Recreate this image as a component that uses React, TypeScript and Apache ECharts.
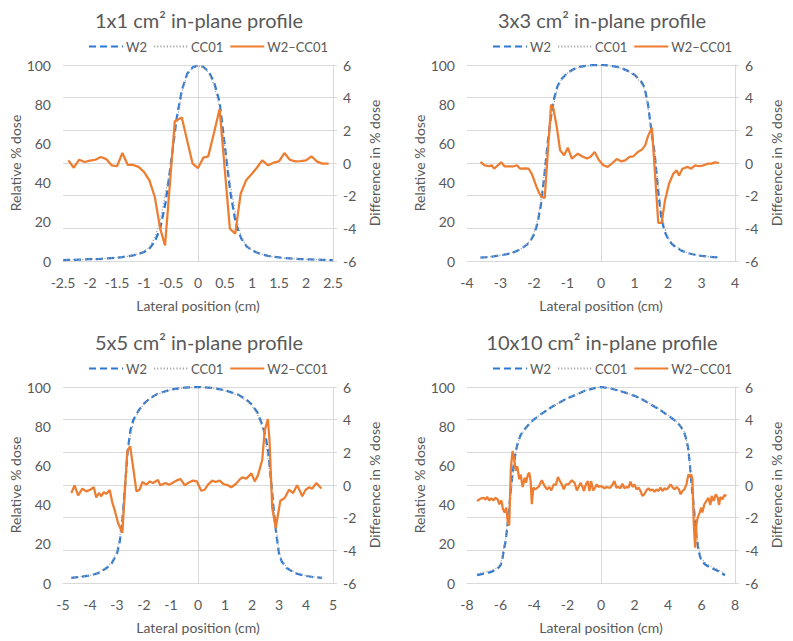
import React, { useEffect, useRef } from "react";
import * as echarts from "echarts";

// ---------- Data ----------
const seriesNames = ["W2", "CC01", "W2\u2013CC01"];
const panelTitles = [
  "1x1 cm\u00B2 in-plane profile",
  "3x3 cm\u00B2 in-plane profile",
  "5x5 cm\u00B2 in-plane profile",
  "10x10 cm\u00B2 in-plane profile",
];
const xMins = [-2.5, -4, -5, -8];
const xMaxs = [2.5, 4, 5, 8];
const xIntervals = [0.5, 1, 1, 2];

// Panel 1 (1x1)
const p1X = [-2.5,-2.4,-2.3,-2.2,-2.1,-2,-1.9,-1.8,-1.7,-1.6,-1.5,-1.4,-1.3,-1.2,-1.1,-1,-0.9,-0.8,-0.7,-0.6,-0.5,-0.4,-0.3,-0.2,-0.1,0,0.1,0.2,0.3,0.4,0.5,0.6,0.7,0.8,0.9,1,1.1,1.2,1.3,1.4,1.5,1.6,1.7,1.8,1.9,2,2.1,2.2,2.3,2.4,2.5];
const p1W2 = [0.5,0.6,0.6,0.7,0.8,0.9,1.0,1.1,1.3,1.5,1.7,2.0,2.4,2.9,3.6,4.6,6.3,10,16.5,30,50,72,87,95.5,98.8,99.7,99.0,96.5,91,81,58,35,19,11.5,7.5,5.4,4.2,3.3,2.6,2.1,1.8,1.5,1.3,1.1,1.0,0.9,0.8,0.7,0.6,0.5,0.5];
const p1CC = [0.5,0.6,0.7,0.7,0.8,0.9,1.0,1.1,1.2,1.5,1.8,1.9,2.4,3.0,3.7,5.0,7.0,12,20.5,35,49,70,86,95,98.5,99.6,98.8,96,89.5,78,58,39,23,12.5,7.8,5.6,4.3,3.3,2.7,2.1,1.8,1.5,1.3,1.1,1.0,0.9,0.8,0.7,0.6,0.5,0.5];
const p1DX = [-2.4,-2.3,-2.2,-2.1,-2.0,-1.9,-1.8,-1.7,-1.6,-1.5,-1.4,-1.3,-1.2,-1.1,-1.0,-0.9,-0.8,-0.7,-0.61,-0.43,-0.3,-0.1,0,0.1,0.19,0.3,0.4,0.59,0.69,0.79,0.89,0.99,1.09,1.19,1.3,1.4,1.5,1.6,1.7,1.8,1.9,2.0,2.1,2.2,2.3,2.42];
const p1D = [0.16,-0.29,0.2,0.06,0.14,0.2,0.37,0.24,-0.14,-0.2,0.61,-0.12,-0.12,-0.24,-0.55,-1.06,-2.08,-4.02,-5.04,2.55,2.78,-0.04,-0.31,0.33,0.41,1.9,3.3,-4.02,-4.33,-1.88,-1.06,-0.69,-0.29,0.16,-0.14,0.02,0.1,0.61,0.2,0.1,0.12,0.16,0.41,0.1,-0.04,-0.04];

// Panel 2 (3x3)
const p2X = [-3.6,-3.4,-3.2,-3.0,-2.8,-2.6,-2.4,-2.2,-2.1,-2.0,-1.9,-1.8,-1.7,-1.6,-1.5,-1.4,-1.3,-1.2,-1.0,-0.8,-0.6,-0.4,-0.2,0,0.2,0.4,0.6,0.8,1.0,1.2,1.3,1.4,1.5,1.6,1.7,1.8,1.9,2.0,2.1,2.2,2.4,2.6,2.8,3.0,3.2,3.5];
const p2W2 = [1.7,2.0,2.4,2.9,3.5,4.5,6.0,8.5,10.5,13.5,19,28,42,59,73,83,89,92.5,96,98,99.2,99.7,100,100,99.8,99.3,98.5,97,95,91.5,88.5,80,67,55,37,22,15,11.5,9,7.5,5.3,4.0,3.2,2.6,2.2,1.8];
const p2CC = [1.7,2.0,2.4,2.9,3.6,4.6,6.1,8.7,11,14.5,20.5,30,44,59,70,81,88,92,95.8,97.8,99,99.6,99.9,100,99.8,99.2,98.4,96.8,94.6,90.8,87.5,79,65,56,40,25.5,17,12,9.5,7.8,5.5,4.1,3.3,2.6,2.2,1.8];
const p2DX = [-3.6,-3.47,-3.35,-3.26,-3.19,-3.08,-2.98,-2.88,-2.73,-2.6,-2.51,-2.41,-2.26,-2.16,-2.06,-1.96,-1.86,-1.78,-1.68,-1.49,-1.42,-1.32,-1.22,-1.1,-0.99,-0.87,-0.69,-0.57,-0.42,-0.32,-0.19,-0.07,0.07,0.2,0.34,0.47,0.6,0.72,0.85,0.97,1.1,1.22,1.32,1.4,1.52,1.71,1.81,1.91,2.03,2.16,2.26,2.33,2.43,2.59,2.69,2.81,2.93,3.06,3.2,3.3,3.4,3.52];
const p2D = [0.06,-0.14,-0.2,-0.14,-0.35,-0.14,0.04,-0.2,-0.2,-0.2,-0.14,-0.35,-0.33,-0.35,-0.69,-1.27,-1.78,-2.08,-2.14,3.57,3.33,2.2,0.78,0.47,0.94,0.27,0.57,0.41,0.27,0.37,0.67,0.2,-0.14,-0.24,0,0.24,0.1,0.16,0.37,0.41,0.67,0.82,1.08,1.63,2.16,-3.67,-3.67,-2.29,-1.27,-0.65,-0.45,-0.76,-0.35,-0.24,-0.35,-0.14,-0.2,-0.14,-0.04,-0.04,0.04,0];

// Panel 3 (5x5)
const p3X = [-4.7,-4.4,-4.0,-3.7,-3.4,-3.2,-3.0,-2.9,-2.8,-2.7,-2.6,-2.5,-2.4,-2.2,-2.0,-1.8,-1.5,-1.0,-0.5,0,0.5,1.0,1.5,1.8,2.0,2.2,2.4,2.5,2.6,2.7,2.8,2.9,3.0,3.1,3.3,3.6,4.0,4.3,4.6];
const p3W2 = [2.6,3.0,3.8,5.0,7.5,10,15,21,32,50,68,78,83,88,91.5,94,96.5,98.7,99.7,100,99.6,98.3,96,93.5,91,87,80,75,67,53,38,25,15,11,7.5,5,3.6,3.0,2.6];
const p3CC = [2.7,3.1,3.9,5.2,7.9,10.5,16,23,35,53,67,75.5,81.5,87.5,91.3,93.8,96.3,98.6,99.6,100,99.5,98.1,95.6,93,90.4,86,78.5,72,63,50,38.5,27.6,16.5,11.5,7.9,5.3,3.8,3.1,2.8];
const p3DX = [-4.69,-4.57,-4.44,-4.28,-4.14,-3.99,-3.86,-3.77,-3.67,-3.58,-3.49,-3.4,-3.27,-3.17,-3.09,-2.96,-2.8,-2.62,-2.51,-2.28,-2.16,-2.06,-1.91,-1.79,-1.67,-1.48,-1.4,-1.2,-1.07,-0.95,-0.8,-0.65,-0.49,-0.37,-0.19,-0.04,0.12,0.25,0.37,0.53,0.65,0.8,0.95,1.11,1.23,1.4,1.54,1.64,1.79,1.98,2.1,2.22,2.38,2.47,2.59,2.65,2.75,2.88,3.05,3.21,3.37,3.52,3.67,3.77,3.86,3.99,4.11,4.23,4.38,4.57];
const p3D = [-0.49,-0.02,-0.63,-0.22,-0.39,-0.29,-0.14,-0.76,-0.49,-0.69,-0.43,-0.55,-0.31,-1.1,-1.51,-2.33,-2.94,2.06,2.37,-0.39,-0.29,0.18,0.02,0.22,0.12,0.31,-0.02,0.12,0.02,0.12,0.27,0.37,-0.02,0.12,0.27,0.22,-0.35,-0.29,0.02,0.27,0.18,0.27,0.06,-0.02,-0.14,0.06,0.33,0.47,0.39,0.71,0.22,0.59,1.55,3.33,4.04,2.67,-1.41,-2.63,-0.96,-0.8,-0.29,-0.49,-0.02,-0.35,-0.69,-0.29,-0.14,-0.22,0.12,-0.22];

// Panel 4 (10x10)
const p4X = [-7.4,-7.0,-6.6,-6.2,-6.0,-5.9,-5.8,-5.7,-5.6,-5.5,-5.4,-5.3,-5.2,-5.1,-5.0,-4.8,-4.6,-4.3,-4.0,-3.6,-3.0,-2.5,-2.0,-1.5,-1.0,-0.5,0,0.5,1.0,1.5,2.0,2.5,3.0,3.5,4.0,4.4,4.7,4.9,5.0,5.1,5.2,5.3,5.4,5.5,5.6,5.7,5.8,5.9,6.0,6.2,6.5,6.9,7.2,7.4];
const p4W2 = [4,4.8,5.5,7,9,11.5,17,21,28,36,46,54,61,66.5,70.5,75.5,78,81,83.5,86,89.5,92,94.3,96,98,99.2,100,99.4,98.3,97,95.5,93.5,91,88.5,85.5,83,80.5,78,76,73,69,61,51,42,33,24,18,14,11.5,9.5,8,6.5,5,4];
const p4CC = [4.6,5.5,6.3,7.8,9.8,12.8,18.5,22.5,30,38,44,52,60,66,70.5,75,77.6,80.8,83.5,86,89.5,92,94.3,96.2,98,99.3,100,99.5,98.4,97.1,95.6,93.7,91.2,88.8,85.8,83.2,80.8,78.3,76.5,73,68.5,60.5,51,44.5,36,28,20,15.2,12.5,10.5,8.8,7.2,5.8,4.7];
const p4DX = [-7.4,-7.26,-7.15,-7.0,-6.9,-6.8,-6.67,-6.55,-6.41,-6.31,-6.17,-6.07,-5.95,-5.85,-5.75,-5.66,-5.56,-5.48,-5.38,-5.28,-5.2,-5.08,-5.0,-4.88,-4.8,-4.68,-4.56,-4.48,-4.36,-4.28,-4.2,-4.13,-4.04,-3.93,-3.73,-3.53,-3.37,-3.23,-3.09,-2.97,-2.82,-2.69,-2.57,-2.45,-2.34,-2.22,-2.1,-1.94,-1.74,-1.58,-1.44,-1.34,-1.22,-1.1,-1.02,-0.9,-0.79,-0.69,-0.59,-0.47,-0.35,-0.25,-0.15,-0.03,0.09,0.21,0.33,0.45,0.57,0.69,0.8,0.92,1.04,1.16,1.28,1.4,1.52,1.64,1.76,1.88,2.0,2.12,2.24,2.36,2.47,2.59,2.71,2.83,2.95,3.07,3.19,3.31,3.43,3.55,3.67,3.79,3.91,4.03,4.15,4.26,4.38,4.52,4.66,4.74,4.86,4.98,5.1,5.22,5.3,5.38,5.46,5.54,5.62,5.7,5.77,5.89,5.98,6.05,6.17,6.29,6.41,6.53,6.61,6.73,6.85,6.97,7.05,7.13,7.25,7.37,7.49];
const p4D = [-0.98,-0.88,-0.82,-0.78,-0.9,-0.73,-0.94,-0.82,-0.94,-0.78,-0.88,-1.18,-0.94,-1.49,-1.69,-1.39,-2.31,-2.47,1.06,2.08,1.67,0.86,1.16,0.35,0.65,-0.12,0.45,0.14,0.65,0.76,0.24,-1.18,-0.16,-0.27,-0.12,0.29,-0.06,-0.27,-0.12,-0.33,0.04,0,0.49,0.24,0.04,-0.27,0.04,0.04,0.29,0.14,-0.33,-0.12,0.14,-0.12,-0.37,0.04,0.24,-0.37,0.24,-0.33,-0.16,0.04,-0.12,-0.06,-0.12,-0.2,-0.12,-0.16,-0.16,0.04,0.24,-0.16,-0.12,-0.2,0.08,-0.2,-0.12,-0.16,0.2,-0.12,0.04,-0.27,-0.16,-0.37,-0.67,-0.57,-0.33,-0.2,-0.33,-0.27,-0.41,-0.27,-0.37,-0.16,-0.37,-0.2,-0.27,-0.16,0.04,-0.12,-0.27,-0.12,-0.27,-0.57,-0.37,-0.27,0.04,0.65,0.49,0.65,0.35,-2.41,-3.84,-2.41,-2.0,-1.69,-1.39,-1.69,-1.18,-0.98,-0.78,-1.22,-0.67,-0.98,-0.57,-0.78,-1.22,-0.73,-0.88,-0.61,-0.67];

const profileX = [p1X, p2X, p3X, p4X];
const profileW2 = [p1W2, p2W2, p3W2, p4W2];
const profileCC = [p1CC, p2CC, p3CC, p4CC];
const diffX = [p1DX, p2DX, p3DX, p4DX];
const diffY = [p1D, p2D, p3D, p4D];

// ---------- Styling / layout ----------
const FONT = "Lato, 'Open Sans', sans-serif";
const TXT = "#595959";
const GRIDC = "#D9D9D9";
const BLUE = "#2E78D2";
const GREY = "#A5A5A5";
const ORANGE = "#ED7D31";

const grids = [
  { left: 63, top: 65, width: 270, height: 196 },
  { left: 467, top: 65, width: 268, height: 196 },
  { left: 63, top: 387, width: 270, height: 196 },
  { left: 467, top: 387, width: 268, height: 196 },
];
const titlePos = [
  { x: 194, y: 5 },
  { x: 597, y: 5 },
  { x: 194, y: 327 },
  { x: 597, y: 327 },
];
const legendPos = [
  { x: 88, y: 40 },
  { x: 492, y: 40 },
  { x: 88, y: 362 },
  { x: 492, y: 362 },
];

const pairs = (xs: number[], ys: number[]) => xs.map((x, i) => [x, ys[i]]);

function buildOption() {
  const title: any[] = [];
  const legend: any[] = [];
  const xAxis: any[] = [];
  const yAxis: any[] = [];
  const series: any[] = [];
  for (let i = 0; i < 4; i++) {
    title.push({
      text: panelTitles[i],
      left: titlePos[i].x,
      top: titlePos[i].y,
      textAlign: "center",
      textStyle: { fontFamily: FONT, fontSize: 20, fontWeight: "normal", color: TXT },
    });
    legend.push({
      left: legendPos[i].x,
      top: legendPos[i].y,
      itemWidth: 34,
      itemHeight: 14,
      itemGap: 6,
      padding: 0,
      data: seriesNames,
      itemStyle: { color: "transparent", borderColor: "transparent", borderWidth: 0, opacity: 0 },
      textStyle: { fontFamily: FONT, fontSize: 13, color: TXT, padding: [0, 0, 0, -2] },
    });
    xAxis.push({
      type: "value",
      gridIndex: i,
      min: xMins[i],
      max: xMaxs[i],
      interval: xIntervals[i],
      axisLine: { show: true, onZero: false, lineStyle: { color: GRIDC, width: 1 } },
      axisTick: { show: false },
      splitLine: { show: false },
      axisLabel: { fontFamily: FONT, fontSize: 14, color: TXT, margin: 14 },
      name: "Lateral position (cm)",
      nameLocation: "middle",
      nameGap: 37,
      nameTextStyle: { fontFamily: FONT, fontSize: 14, color: TXT },
    });
    yAxis.push({
      type: "value",
      gridIndex: i,
      position: "left",
      min: 0,
      max: 100,
      interval: 20,
      axisLine: { show: true, lineStyle: { color: GRIDC, width: 1 } },
      axisTick: { show: false },
      splitLine: { show: false },
      axisLabel: { fontFamily: FONT, fontSize: 14, color: TXT, margin: 12 },
      name: "Relative % dose",
      nameLocation: "middle",
      nameGap: 40,
      nameTextStyle: { fontFamily: FONT, fontSize: 14, color: TXT },
    });
    yAxis.push({
      type: "value",
      gridIndex: i,
      position: "right",
      min: -6,
      max: 6,
      interval: 2,
      axisLine: { show: true, lineStyle: { color: GRIDC, width: 1 } },
      axisTick: { show: true, length: 4, lineStyle: { color: GRIDC } },
      splitLine: { show: true, lineStyle: { color: GRIDC, width: 1 } },
      axisLabel: { fontFamily: FONT, fontSize: 14, color: TXT, margin: 10 },
      name: "Difference in % dose",
      nameLocation: "middle",
      nameGap: 34,
      nameTextStyle: { fontFamily: FONT, fontSize: 14, color: TXT },
    });
    series.push({
      type: "line",
      name: seriesNames[0],
      xAxisIndex: i,
      yAxisIndex: i * 2,
      data: pairs(profileX[i], profileW2[i]),
      symbol: "none",
      z: 2,
      itemStyle: { color: BLUE },
      lineStyle: { color: BLUE, width: 2.25, type: [7, 4] },
    });
    series.push({
      type: "line",
      name: seriesNames[1],
      xAxisIndex: i,
      yAxisIndex: i * 2,
      data: pairs(profileX[i], profileCC[i]),
      symbol: "none",
      z: 3,
      itemStyle: { color: GREY },
      lineStyle: { color: GREY, width: 1.25, type: [1.2, 2] },
    });
    series.push({
      type: "line",
      name: seriesNames[2],
      xAxisIndex: i,
      yAxisIndex: i * 2 + 1,
      data: pairs(diffX[i], diffY[i]),
      symbol: "none",
      z: 4,
      itemStyle: { color: ORANGE },
      lineStyle: { color: ORANGE, width: 2.25 },
    });
  }
  return {
    animation: false,
    backgroundColor: "#ffffff",
    textStyle: { fontFamily: FONT },
    title,
    legend,
    grid: grids.map((g) => ({ ...g, containLabel: false })),
    xAxis,
    yAxis,
    series,
  };
}

export default function App() {
  const ref = useRef<HTMLDivElement>(null);
  useEffect(() => {
    document.body.style.margin = "0";
    if (!ref.current) return;
    const chart = echarts.init(ref.current, undefined, { renderer: "svg" });
    chart.setOption(buildOption() as any);
    return () => chart.dispose();
  }, []);
  return <div ref={ref} style={{ width: 793, height: 641 }} />;
}
